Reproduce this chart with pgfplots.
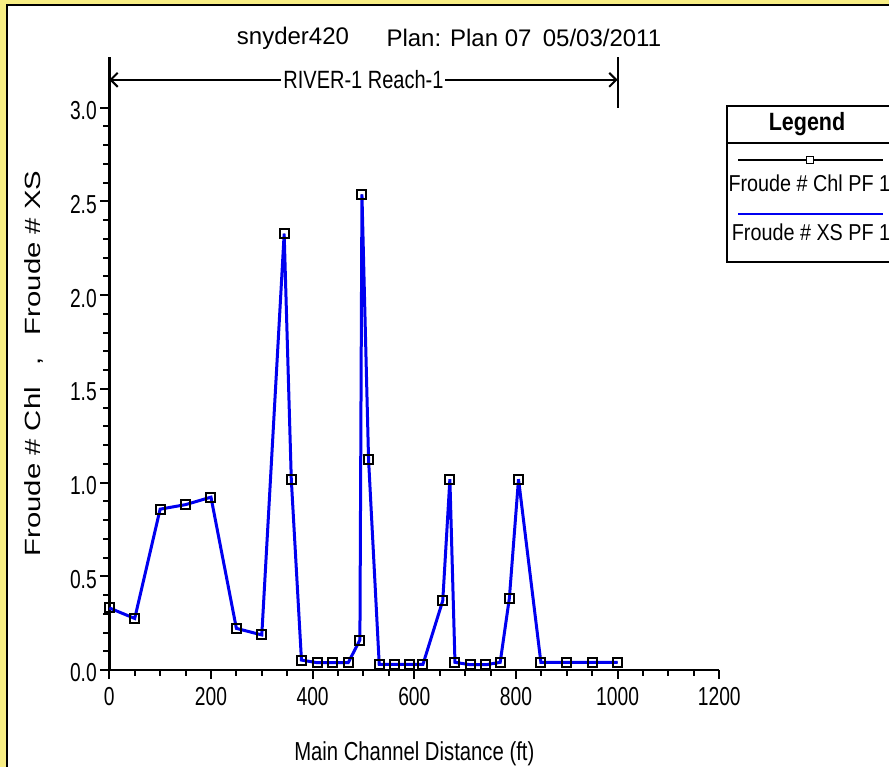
\documentclass[border=0pt]{standalone}
\usepackage{pgfplots}
\pgfplotsset{compat=1.18}
\usepackage{pgfplotstable}
\usetikzlibrary{arrows.meta}
\usepackage{fontspec}
\setmainfont{Liberation Sans}
\newfontfamily\tickfont[FakeStretch=0.74]{Liberation Sans}
\newfontfamily\labfont[FakeStretch=0.8]{Liberation Sans}
\newfontfamily\xlabfont[FakeStretch=0.78]{Liberation Sans}
\newfontfamily\legfont[FakeStretch=0.86]{Liberation Sans}
\newfontfamily\ylabfont[FakeStretch=1.33]{Liberation Sans}

\definecolor{frameyellow}{RGB}{248,238,132}
\definecolor{xsblue}{RGB}{0,0,240}

% Froude number along the main channel (distance in ft)
\pgfplotstableread{
dist froude
0    0.331
50   0.275
100  0.858
150  0.882
200  0.922
250  0.222
300  0.187
344  2.327
358  1.018
378  0.053
409  0.039
439  0.039
470  0.039
493  0.160
497  2.537
510  1.124
531  0.030
562  0.030
590  0.030
617  0.030
656  0.370
670  1.018
680  0.041
710  0.028
741  0.028
769  0.041
787  0.383
805  1.018
849  0.041
899  0.041
950  0.041
1000 0.041
}\froudedata

\begin{document}
\begin{tikzpicture}[x=1pt,y=1pt]
\clip (0,0) rectangle (889,767);
% page background and frame
\fill[frameyellow] (0,0) rectangle (889,767);
\fill[white] (8,0) rectangle (889,761.5);
\draw[line width=2.2pt] (7.3,0) -- (7.3,762) -- (889,762);

\begin{axis}[
  at={(109.3pt,97pt)}, anchor=south west,
  scale only axis, width=610pt, height=613pt,
  xmin=0, xmax=1200, ymin=0, ymax=3.27,
  axis lines=left,
  axis line style={-, line width=2.6pt},
  clip=false,
  tick align=outside,
  major tick length=9pt, minor tick length=6pt,
  every tick/.style={black, line width=2pt},
  xtick={0,200,...,1200},
  minor xtick={50,100,150,250,300,350,450,500,550,650,700,750,850,900,950,1050,1100,1150},
  ytick={0,0.5,...,3.0},
  minor ytick={0.1,0.2,0.3,0.4,0.6,0.7,0.8,0.9,1.1,1.2,1.3,1.4,1.6,1.7,1.8,1.9,2.1,2.2,2.3,2.4,2.6,2.7,2.8,2.9},
  /pgf/number format/assume math mode=true,
  /pgf/number format/1000 sep={},
  yticklabel style={/pgf/number format/fixed, /pgf/number format/fixed zerofill, /pgf/number format/precision=1, font=\tickfont\fontsize{26}{26}\selectfont, yshift=-3pt, xshift=0pt},
  xticklabel style={font=\tickfont\fontsize{26}{26}\selectfont, yshift=-5pt},
  xlabel={Main Channel Distance (ft)},
  xlabel style={font=\xlabfont\fontsize{26}{26}\selectfont, yshift=-29pt},
  ylabel={Froude \# Chl\quad ,\quad Froude \# XS},
  ylabel style={font=\ylabfont\fontsize{22}{22}\selectfont, yshift=20pt},
]
\addplot[black, line width=1.4pt, mark=square, mark size=4.5pt, mark options={line width=2pt}] table[x=dist, y=froude] {\froudedata};
\addplot[xsblue, line width=3pt] table[x=dist, y=froude] {\froudedata};

% reach extent annotation
\draw[line width=2pt, {Straight Barb[length=7pt,width=14pt]}-{Straight Barb[length=7pt,width=14pt]}] (axis cs:0,3.148) -- (axis cs:1000,3.148)
  node[midway, fill=white, inner sep=2pt, font=\labfont\fontsize{25}{25}\selectfont] {RIVER-1 Reach-1};
\draw[line width=2pt] (axis cs:1000,3.0) -- (axis cs:1000,3.27);
\end{axis}

% title
\node[font=\fontsize{24}{24}\selectfont] at (293,729) {snyder420};
\node[font=\fontsize{24}{24}\selectfont] at (459,729) {Plan: Plan 07};
\node[font=\fontsize{24}{24}\selectfont] at (602,729) {05/03/2011};

% legend
\draw[line width=2pt] (726.7,505.3) rectangle (895,661.3);
\draw[line width=2pt] (726.7,623.7) -- (895,623.7);
\node[font=\legfont\bfseries\fontsize{25}{25}\selectfont] at (807,643) {Legend};
\draw[line width=1.6pt] (738,607) -- (883,607);
\draw[line width=1.6pt, fill=white] (806.5,603.5) rectangle (813.5,610.5);
\node[font=\legfont\fontsize{23}{23}\selectfont, anchor=west, inner sep=0pt] at (728.3,584) {Froude \# Chl PF 1};
\draw[xsblue, line width=2.4pt] (738,552.7) -- (883,552.7);
\node[font=\legfont\fontsize{23}{23}\selectfont, anchor=west, inner sep=0pt] at (731.7,535) {Froude \# XS PF 1};
\end{tikzpicture}
\end{document}
